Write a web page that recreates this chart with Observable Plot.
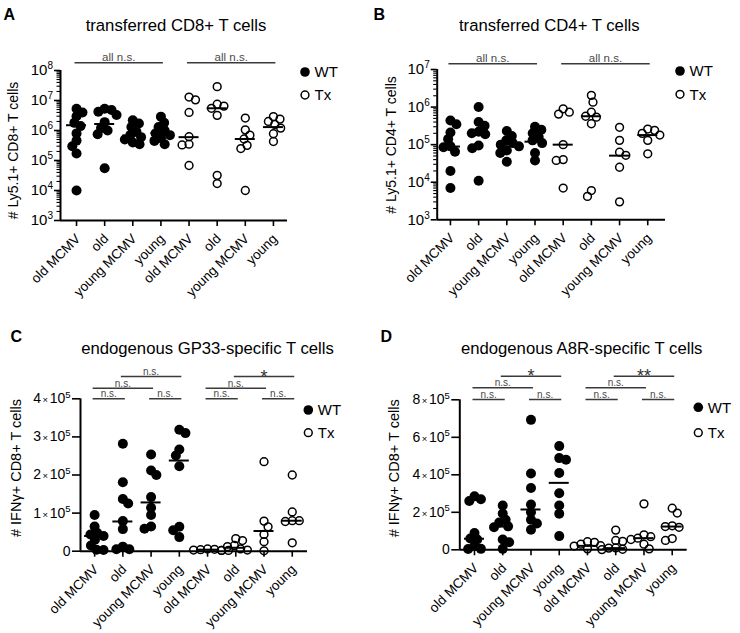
<!DOCTYPE html>
<html><head><meta charset="utf-8">
<script src="https://cdn.jsdelivr.net/npm/d3@7"></script>
<script src="https://cdn.jsdelivr.net/npm/@observablehq/plot@0.6"></script>
<style>
body{margin:0;background:#fff;}
#root{position:relative;width:740px;height:633px;overflow:hidden;font-family:"Liberation Sans",Arial,Helvetica,sans-serif;background:#fff;}
.panel{position:absolute;}
#overlay{position:absolute;left:0;top:0;}
</style></head><body><div id="root"></div>
<script>
// ---------- data ----------
const groups = ["old MCMV", "old", "young MCMV", "young"];
const xTickLabels = [...groups, ...groups];
const legendLabels = ["WT", "Tx"];
const panelLetters = ["A", "B", "C", "D"];
const titles = ["transferred CD8+ T cells", "transferred CD4+ T cells", "endogenous GP33-specific T cells", "endogenous A8R-specific T cells"];
const yTitles = ["# Ly5.1+ CD8+ T cells", "# Ly5.1+ CD4+ T cells", "# IFNγ+ CD8+ T cells", "# IFNγ+ CD8+ T cells"];

// A: transferred CD8+
const aWT = [
  [5.3e6, 4e6, 3e6, 1.8e6, 1.4e6, 8e5, 4.6e5, 3e5, 1.7e5, 1e4],
  [5.3e6, 4.8e6, 4.2e6, 3.3e6, 1.9e6, 1.2e6, 1e6, 7.5e5, 5.5e4],
  [2.2e6, 1.7e6, 1.3e6, 9e5, 7e5, 6e5, 5e5, 4e5, 3.5e5],
  [2.9e6, 1.8e6, 1.3e6, 1e6, 8e5, 7e5, 5.5e5, 4.5e5, 3.5e5]
];
const aTx = [
  [1.3e7, 1.05e7, 4e6, 6.2e5, 3.5e5, 3.3e5, 6.8e4],
  [2.9e7, 7.5e6, 6.5e6, 5.5e6, 3.2e6, 3.2e4, 1.7e4],
  [2.6e6, 1.05e6, 7e5, 5.2e5, 3.2e5, 2.5e5, 1e4],
  [2.9e6, 2.4e6, 2.0e6, 1.6e6, 1.2e6, 7.8e5, 4.3e5]
];
const aWTmed = [1.5e6, 1.65e6, 6.8e5, 8.2e5];
const aTxmed = [6e5, 5.5e6, 5.2e5, 1.3e6];

// B: transferred CD4+
const bWT = [
  [4.4e5, 3.5e5, 2.1e5, 1.4e5, 9e4, 8.5e4, 6.5e4, 2e4, 7e3],
  [1e6, 4e5, 3.2e5, 2.2e5, 2e5, 1.9e5, 9.5e4, 8e4, 1.1e4],
  [2.3e5, 1.7e5, 1.3e5, 1.1e5, 1e5, 9e4, 7e4, 6e4, 3.5e4],
  [3e5, 2.5e5, 2.0e5, 1.6e5, 1.3e5, 1.1e5, 6e4, 3.8e4]
];
const bTx = [
  [9e5, 7.3e5, 6.5e5, 1e5, 4e4, 3.8e4, 7e3],
  [2.05e6, 1.35e6, 7.3e5, 5.7e5, 5.4e5, 3.6e5, 6e3, 4.2e3],
  [2.9e5, 1.3e5, 6.3e4, 5.2e4, 2.5e4, 3e3],
  [2.6e5, 2.4e5, 2e5, 1.8e5, 1.3e5, 5.7e4]
];
const bWTmed = [8.9e4, 1.95e5, 1e5, 1.2e5];
const bTxmed = [1e5, 5.7e5, 5.1e4, 1.8e5];

// C: endogenous GP33-specific
const cWT = [
  [0.95e5, 0.65e5, 0.48e5, 0.44e5, 0.4e5, 0.3e5, 0.15e5, 0.04e5, 0.03e5],
  [2.82e5, 1.81e5, 1.37e5, 1.25e5, 0.79e5, 0.58e5, 0.12e5, 0.05e5, 0.05e5],
  [2.54e5, 2.12e5, 2.0e5, 1.42e5, 1.14e5, 0.95e5, 0.65e5, 0.59e5],
  [3.19e5, 3.1e5, 2.67e5, 2.51e5, 2.23e5, 0.64e5, 0.55e5, 0.37e5]
];
const cTx = [
  [0.06e5, 0.05e5, 0.04e5, 0.03e5, 0.02e5, 0.02e5],
  [0.33e5, 0.28e5, 0.15e5, 0.12e5, 0.06e5, 0.03e5, 0.02e5],
  [2.35e5, 0.79e5, 0.64e5, 0.44e5, 0.25e5, 0.01e5],
  [2.0e5, 1.03e5, 0.8e5, 0.8e5, 0.78e5, 0.22e5]
];
const cWTmed = [0.4e5, 0.78e5, 1.28e5, 2.38e5];
const cTxmed = [0.04e5, 0.09e5, 0.53e5, 0.8e5];

// D: endogenous A8R-specific
const dWT = [
  [2.85e5, 2.7e5, 2.6e5, 0.9e5, 0.6e5, 0.55e5, 0.2e5, 0.05e5, 0.04e5],
  [2.36e5, 1.94e5, 1.6e5, 1.45e5, 1.25e5, 1.2e5, 0.55e5, 0.4e5, 0.05e5],
  [6.93e5, 4.07e5, 3.3e5, 2.42e5, 2.0e5, 1.6e5, 1.4e5, 1.07e5],
  [5.53e5, 4.89e5, 4.8e5, 4.1e5, 3.02e5, 2.36e5, 1.92e5, 0.73e5]
];
const dTx = [
  [0.43e5, 0.4e5, 0.3e5, 0.22e5, 0.2e5, 0.05e5],
  [1.05e5, 0.5e5, 0.45e5, 0.1e5, 0.09e5, 0.03e5, 0.01e5],
  [2.45e5, 0.8e5, 0.7e5, 0.62e5, 0.55e5, 0.3e5, 0.05e5],
  [2.22e5, 1.96e5, 1.28e5, 1.24e5, 1.2e5, 0.6e5, 0.5e5]
];
const dWTmed = [0.59e5, 1.24e5, 2.15e5, 3.57e5];
const dTxmed = [0.21e5, 0.09e5, 0.62e5, 1.24e5];

// axis ticks and labels
const aTicks = [1e3, 1e4, 1e5, 1e6, 1e7, 1e8];
const aTickLabels = ["10^3", "10^4", "10^5", "10^6", "10^7", "10^8"];
const bTicks = [1e3, 1e4, 1e5, 1e6, 1e7];
const bTickLabels = ["10^3", "10^4", "10^5", "10^6", "10^7"];
const cTicks = [0, 1e5, 2e5, 3e5, 4e5];
const cTickLabels = ["0", "1×10^5", "2×10^5", "3×10^5", "4×10^5"];
const dTicks = [0, 2e5, 4e5, 6e5, 8e5];
const dTickLabels = ["0", "2×10^5", "4×10^5", "6×10^5", "8×10^5"];

// significance brackets (category index from/to, stacking level, label)
const aBrackets = [
  {from: 0, to: 3, level: 0, label: "all n.s."},
  {from: 4, to: 7, level: 0, label: "all n.s."}
];
const bBrackets = aBrackets;
const cBrackets = [
  {from: 0, to: 1, level: 0, label: "n.s."}, {from: 2, to: 3, level: 0, label: "n.s."},
  {from: 4, to: 5, level: 0, label: "n.s."}, {from: 6, to: 7, level: 0, label: "n.s."},
  {from: 0, to: 2, level: 1, label: "n.s."}, {from: 4, to: 6, level: 1, label: "n.s."},
  {from: 1, to: 3, level: 2, label: "n.s."}, {from: 5, to: 7, level: 2, label: "*"}
];
const dBrackets = [
  {from: 0, to: 1, level: 0, label: "n.s."}, {from: 2, to: 3, level: 0, label: "n.s."},
  {from: 4, to: 5, level: 0, label: "n.s."}, {from: 6, to: 7, level: 0, label: "n.s."},
  {from: 0, to: 2, level: 1, label: "n.s."}, {from: 4, to: 6, level: 1, label: "n.s."},
  {from: 1, to: 3, level: 2, label: "*"}, {from: 5, to: 7, level: 2, label: "**"}
];

// ---------- rendering ----------
const FONT = '"Liberation Sans", Arial, Helvetica, sans-serif';
const NS = "http://www.w3.org/2000/svg";

function swarm(ys, d) {
  const order = d3.range(ys.length).sort((a, b) => ys[a] - ys[b]);
  const xs = new Array(ys.length).fill(0);
  const placed = [];
  for (const i of order) {
    const y = ys[i];
    const cands = [0];
    for (const j of placed) {
      const dy = Math.abs(ys[j] - y);
      if (dy < d) { const w = Math.sqrt(d * d - dy * dy); cands.push(xs[j] - w, xs[j] + w); }
    }
    const bal = d3.sum(placed, j => xs[j]);
    cands.sort((a, b) => Math.abs(a) - Math.abs(b) || (bal > 0 ? a - b : b - a));
    for (const c of cands) {
      if (placed.every(j => (xs[j] - c) ** 2 + (ys[j] - y) ** 2 >= d * d - 1e-6)) { xs[i] = c; break; }
    }
    placed.push(i);
  }
  return xs;
}

function tspan(parent, txt, attrs) {
  const e = document.createElementNS(NS, "tspan");
  e.textContent = txt;
  for (const k in attrs) e.setAttribute(k, attrs[k]);
  parent.appendChild(e);
}

function richTicks(svg, fs, supFs, supDy) {
  svg.querySelectorAll('g[aria-label="y-axis tick label"]').forEach(g => g.setAttribute("font-size", fs));
  svg.querySelectorAll('g[aria-label="y-axis tick label"] text').forEach(t => {
    const s = t.textContent;
    if (!s || !s.includes("^")) return;
    t.textContent = "";
    if (s.includes("×")) {
      const [m, r] = s.split("×");
      const [base, exp] = r.split("^");
      tspan(t, m, {});
      tspan(t, "×", {"font-size": supFs, dx: 1.5});
      tspan(t, base, {dx: 1.5});
      tspan(t, exp, {"font-size": supFs, dy: supDy});
    } else {
      const [base, exp] = s.split("^");
      tspan(t, base, {});
      tspan(t, exp, {"font-size": supFs, dy: supDy});
    }
  });
}

function buildPanel(cfg) {
  const {W, H, ml, mr, mt, mb, xDomain, yType, yDomain, ticks, tickLabels, wt, tx, wtMed, txMed,
         brackets, bracketDy, nsFont, tickFont, supFont, supDy, tickSizeY, tickPadY} = cfg;
  const yScale = (yType === "log" ? d3.scaleLog() : d3.scaleLinear()).domain(yDomain).range([H - mb, mt]);
  const pxPerUnit = (W - ml - mr) / (xDomain[1] - xDomain[0]);
  const wtPts = [], txPts = [];
  const add = (series, offset, out) => series.forEach((vals, g) => {
    const xs = swarm(vals.map(v => yScale(v)), 7);
    vals.forEach((v, i) => out.push({x: g + offset + xs[i] / pxPerUnit, y: v}));
  });
  add(wt, 0, wtPts); add(tx, 4, txPts);
  const meds = [...wtMed.map((v, g) => ({x: g, y: v})), ...txMed.map((v, g) => ({x: g + 4, y: v}))];
  const top = yDomain[1];
  const bottom = yDomain[0];

  const marks = [];
  if (yType === "log") {
    const minor = [];
    for (let e = Math.log10(yDomain[0]); e < Math.log10(yDomain[1]); e++)
      for (let k = 2; k <= 9; k++) minor.push(k * 10 ** e);
    marks.push(Plot.axisY({ticks: minor, tickSize: 3.5, tickFormat: () => "", strokeWidth: 1.1, label: null}));
  }
  marks.push(Plot.axisY({ticks, tickFormat: d => tickLabels[ticks.indexOf(d)], tickSize: tickSizeY, tickPadding: tickPadY,
                         fontSize: tickFont, strokeWidth: 1.6, label: null}));
  marks.push(Plot.axisX({ticks: d3.range(8), tickFormat: () => "", tickSize: 6, strokeWidth: 1.6, label: null}));
  marks.push(Plot.text(d3.range(8), {x: i => i, y: () => bottom, text: i => xTickLabels[i], rotate: -45,
                                     textAnchor: "end", lineAnchor: "middle", dx: 1.5, dy: 16, fontSize: 13.5, fill: "black"}));
  marks.push(Plot.ruleX([xDomain[0]], {stroke: "black", strokeWidth: 2}));
  marks.push(Plot.ruleY([bottom], {stroke: "black", strokeWidth: 2}));
  marks.push(Plot.dot(wtPts, {x: "x", y: "y", r: 5, fill: "black", stroke: "none"}));
  marks.push(Plot.dot(txPts, {x: "x", y: "y", r: 3.9, fill: "none", stroke: "black", strokeWidth: 1.5}));
  marks.push(Plot.ruleY(meds, {x1: "x", x2: "x", y: "y", insetLeft: -10, insetRight: -10, stroke: "black", strokeWidth: 2}));
  for (const L of [...new Set(brackets.map(b => b.level))]) {
    const bs = brackets.filter(b => b.level === L);
    marks.push(Plot.ruleY(bs, {x1: "from", x2: "to", y: () => top, dy: bracketDy[L], insetLeft: -1.5, insetRight: -2.5,
                               stroke: "#3a3a3a", strokeWidth: 1.6}));
    const ns = bs.filter(b => !b.label.startsWith("*"));
    const st = bs.filter(b => b.label.startsWith("*"));
    marks.push(Plot.text(ns, {x: b => (b.from + b.to) / 2, y: () => top, text: "label", dy: bracketDy[L] - 1.6,
                              lineAnchor: "bottom", fontSize: nsFont, fill: "#4a4a4a"}));
    marks.push(Plot.text(st, {x: b => (b.from + b.to) / 2, y: () => top, text: "label", dy: bracketDy[L] + 6,
                              lineAnchor: "bottom", fontSize: 18, fill: "#333"}));
  }
  const svg = Plot.plot({
    width: W, height: H, marginLeft: ml, marginRight: mr, marginTop: mt, marginBottom: mb,
    x: {domain: xDomain},
    y: {type: yType, domain: yDomain},
    style: {fontFamily: FONT, color: "black", background: "transparent", overflow: "visible"},
    marks
  });
  richTicks(svg, tickFont, supFont, supDy);
  return svg;
}

const panels = [
  {left: 0, top: 0, W: 370, H: 310, ml: 60, mr: 83, mt: 70, mb: 90, xDomain: [-0.57, 7.5], yType: "log", yDomain: [1e3, 1e8],
   ticks: aTicks, tickLabels: aTickLabels, wt: aWT, tx: aTx, wtMed: aWTmed, txMed: aTxmed, brackets: aBrackets, bracketDy: [-7.7],
   nsFont: 11.5, tickFont: 15, supFont: 10, supDy: -6, tickSizeY: 6, tickPadY: 1.5},
  {left: 370, top: 0, W: 370, H: 310, ml: 66.7, mr: 75, mt: 69, mb: 90.7, xDomain: [-0.47, 7.63], yType: "log", yDomain: [1e3, 1e7],
   ticks: bTicks, tickLabels: bTickLabels, wt: bWT, tx: bTx, wtMed: bWTmed, txMed: bTxmed, brackets: bBrackets, bracketDy: [-5.7],
   nsFont: 11.5, tickFont: 15, supFont: 10, supDy: -6, tickSizeY: 6, tickPadY: 1.5},
  {left: 0, top: 310, W: 370, H: 323, ml: 80, mr: 63, mt: 88.3, mb: 82.3, xDomain: [-0.5, 7.54], yType: "linear", yDomain: [0, 4e5],
   ticks: cTicks, tickLabels: cTickLabels, wt: cWT, tx: cTx, wtMed: cWTmed, txMed: cTxmed, brackets: cBrackets, bracketDy: [0, -10.6, -22.3],
   nsFont: 10, tickFont: 14, supFont: 9.5, supDy: -5.5, tickSizeY: 8, tickPadY: 2},
  {left: 370, top: 310, W: 370, H: 323, ml: 89.3, mr: 53.3, mt: 89.3, mb: 83.7, xDomain: [-0.52, 7.53], yType: "linear", yDomain: [0, 8e5],
   ticks: dTicks, tickLabels: dTickLabels, wt: dWT, tx: dTx, wtMed: dWTmed, txMed: dTxmed, brackets: dBrackets, bracketDy: [-0.3, -12, -23.6],
   nsFont: 10, tickFont: 14, supFont: 9.5, supDy: -5.5, tickSizeY: 8, tickPadY: 2}
];

const root = document.getElementById("root");
for (const p of panels) {
  const div = document.createElement("div");
  div.className = "panel";
  div.style.left = p.left + "px";
  div.style.top = p.top + "px";
  div.appendChild(buildPanel(p));
  root.appendChild(div);
}

// overlay: panel letters, titles, y-axis titles, legends
const ov = d3.select(root).append("svg").attr("id", "overlay").attr("width", 740).attr("height", 633)
  .style("font-family", FONT);
const letterPos = [[3.5, 20], [373.5, 20], [10.5, 341.7], [380.5, 341.7]];
const titlePos = [[176, 30.5], [549.3, 30.5], [207.5, 353.5], [581.7, 353.5]];
const yTitlePos = [[13.5, 150.5, 14], [391, 145, 14], [16.3, 468, 14.5], [394, 468.3, 14.5]];
const legendPos = [[305, 72, 95], [680, 71, 94.3], [308.3, 410, 432.7], [698.3, 407.3, 432.7]];
panelLetters.forEach((l, i) => ov.append("text").attr("x", letterPos[i][0]).attr("y", letterPos[i][1])
  .attr("font-size", 16).attr("font-weight", "bold").text(l));
titles.forEach((t, i) => ov.append("text").attr("x", titlePos[i][0]).attr("y", titlePos[i][1])
  .attr("font-size", 16.7).attr("text-anchor", "middle").text(t));
yTitles.forEach((t, i) => ov.append("text")
  .attr("transform", `translate(${yTitlePos[i][0]},${yTitlePos[i][1]}) rotate(-90)`)
  .attr("font-size", yTitlePos[i][2]).attr("text-anchor", "middle").attr("dy", "0.35em").text(t));
legendPos.forEach(([x, y1, y2]) => {
  ov.append("circle").attr("cx", x).attr("cy", y1).attr("r", 4.8).attr("fill", "black");
  ov.append("circle").attr("cx", x).attr("cy", y2).attr("r", 3.9).attr("fill", "none").attr("stroke", "black").attr("stroke-width", 1.5);
  ov.append("text").attr("x", x + 9.5).attr("y", y1).attr("dy", "0.36em").attr("font-size", 15).text(legendLabels[0]);
  ov.append("text").attr("x", x + 9.5).attr("y", y2).attr("dy", "0.36em").attr("font-size", 15).text(legendLabels[1]);
});
</script>
</body></html>
